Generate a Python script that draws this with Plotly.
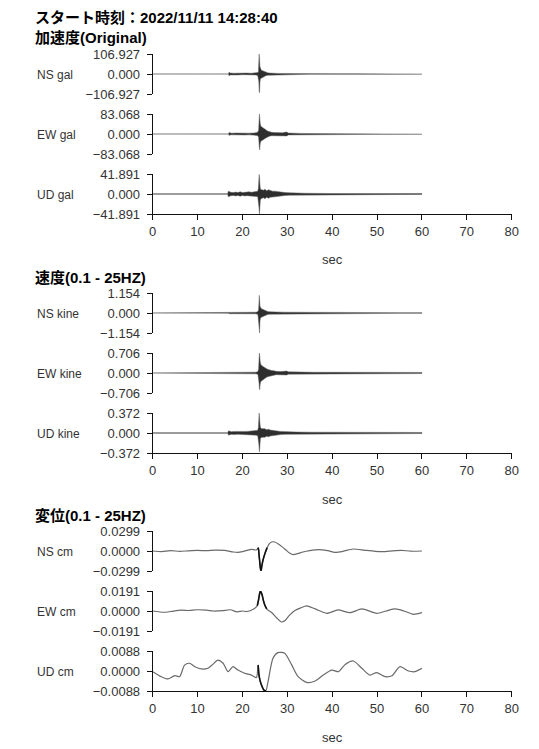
import plotly.graph_objects as go

W, H = 539, 749

# ---------------------------------------------------------------- labels
START_TIME = "2022/11/11 14:28:40"
SECTION_TITLES = ["加速度(Original)", "速度(0.1 - 25HZ)", "変位(0.1 - 25HZ)"]
CHANNELS = ["NS", "EW", "UD"]
UNITS = ["gal", "kine", "cm"]
X_TICKS = [0, 10, 20, 30, 40, 50, 60, 70, 80]
X_TITLE = "sec"

# peak absolute value of each channel (sets the symmetric y range)
ACC_LIMITS = [106.927, 83.068, 41.891]
VEL_LIMITS = [1.154, 0.706, 0.372]
DISP_LIMITS = [0.0299, 0.0191, 0.0088]
LIMIT_DECIMALS = [3, 3, 4]

# ---------------------------------------------------------------- acceleration envelopes (gal)
# t: seconds, up: positive envelope, dn: magnitude of negative envelope
ACC_NS_T = [0, 16.9, 17.0, 17.1, 17.3, 18, 19, 20, 21, 22, 23, 23.4, 23.55, 23.65, 23.72, 23.8, 23.9, 24.0, 24.2,
            24.5, 24.8, 25.2, 25.6, 26.0, 26.5, 27, 28, 29, 30, 31, 32, 33, 35, 40, 45, 50, 55, 60]
ACC_NS_UP = [0.3, 0.5, 10, 8, 5, 4, 5, 3.5, 5, 4, 5, 8, 10, 60, 106.927, 80, 40, 25, 20,
             18, 14, 10, 7, 5, 4, 3.5, 3, 3, 2.5, 3, 2, 2, 1.5, 1.5, 1.5, 1.2, 1.2, 1]
ACC_NS_DN = [0.3, 0.5, 10, 8, 5, 4, 5, 3.5, 5, 4, 5, 8, 10, 40, 95, 100, 45, 25, 22,
             16, 15, 9, 7, 5, 4, 3.5, 3, 3, 2.5, 3, 2, 2, 1.5, 1.5, 1.5, 1.2, 1.2, 1]

ACC_EW_T = [0, 16.9, 17.0, 17.2, 17.6, 18.5, 19.5, 20.5, 21.5, 22.5, 23.3, 23.6, 23.7, 23.78, 23.85, 23.95, 24.1,
            24.4, 24.8, 25.2, 25.6, 26.0, 26.5, 27, 28, 29, 29.7, 29.9, 30.2, 31, 32, 33, 35, 40, 45, 50, 55, 60]
ACC_EW_UP = [0.3, 0.5, 6, 4, 3.5, 4, 3, 4, 3.5, 4, 6, 15, 60, 83.068, 70, 45, 32,
             28, 24, 18, 12, 9, 7, 6, 5, 5, 8, 8, 4, 3, 3, 2.5, 2, 1.5, 1.5, 1.5, 1.2, 1]
ACC_EW_DN = [0.3, 0.5, 6, 4, 3.5, 4, 3, 4, 3.5, 4, 6, 12, 40, 60, 66, 40, 30,
             27, 22, 17, 12, 9, 7, 6, 5, 5, 8, 8, 4, 3, 3, 2.5, 2, 1.5, 1.5, 1.5, 1.2, 1]

ACC_UD_T = [0, 16.7, 16.8, 16.9, 17.1, 17.4, 18, 18.5, 19, 19.5, 20, 20.5, 21, 21.5, 22, 22.5, 23, 23.4, 23.55,
            23.65, 23.72, 23.8, 23.9, 24.0, 24.3, 24.7, 25.0, 25.4, 25.8, 26.2, 26.7, 27.2, 27.8, 28.5, 29.5,
            30.5, 32, 34, 40, 50, 60]
ACC_UD_UP = [0.3, 0.3, 4, 6, 5, 3.5, 3, 4, 3, 4.5, 3, 4, 3.5, 4.5, 3.5, 4.5, 5, 6, 12,
             30, 41, 35, 20, 10, 9, 8, 10, 7, 9, 7, 6, 6, 5, 3.5, 3,
             2.5, 2, 1.5, 1, 1, 0.8]
ACC_UD_DN = [0.3, 0.3, 4, 6, 5, 3.5, 3, 4, 3, 4.5, 3, 4, 3.5, 4.5, 3.5, 4.5, 5, 6, 12,
             25, 35, 41.891, 25, 12, 9, 8, 10, 7, 9, 7, 6, 6, 5, 3.5, 3,
             2.5, 2, 1.5, 1, 1, 0.8]

# ---------------------------------------------------------------- velocity envelopes (kine)
VEL_NS_T = [0, 16.9, 17.0, 17.3, 18, 19, 20, 21, 22, 23, 23.45, 23.6, 23.68, 23.75, 23.82, 23.9, 24.0, 24.2,
            24.5, 24.8, 25.2, 25.6, 26.0, 26.5, 27, 28, 29, 30, 32, 34, 36, 40, 45, 50, 55, 60]
VEL_NS_UP = [0.005, 0.01, 0.04, 0.035, 0.045, 0.04, 0.05, 0.04, 0.05, 0.045, 0.08, 0.2, 0.6, 1.02, 0.8, 0.4,
             0.3, 0.25, 0.22, 0.18, 0.13, 0.09, 0.07, 0.06, 0.055, 0.05, 0.05, 0.045, 0.04, 0.035, 0.03, 0.03,
             0.025, 0.025, 0.02, 0.02]
VEL_NS_DN = [0.005, 0.01, 0.04, 0.035, 0.045, 0.04, 0.05, 0.04, 0.05, 0.045, 0.08, 0.2, 0.5, 0.9, 1.154, 0.5,
             0.3, 0.25, 0.22, 0.18, 0.13, 0.09, 0.07, 0.06, 0.055, 0.05, 0.05, 0.045, 0.04, 0.035, 0.03, 0.03,
             0.025, 0.025, 0.02, 0.02]

VEL_EW_T = [0, 16.9, 17.0, 17.3, 18, 19, 20, 21, 22, 23, 23.45, 23.6, 23.7, 23.78, 23.86, 23.95, 24.1, 24.4,
            24.8, 25.2, 25.6, 26.0, 26.5, 27, 27.5, 28.5, 29.6, 29.9, 30.2, 31, 33, 36, 40, 50, 60]
VEL_EW_UP = [0.004, 0.008, 0.03, 0.025, 0.03, 0.025, 0.03, 0.025, 0.03, 0.03, 0.05, 0.15, 0.5, 0.706, 0.6,
             0.4, 0.3, 0.25, 0.22, 0.17, 0.13, 0.1, 0.09, 0.08, 0.06, 0.05, 0.07, 0.07, 0.04, 0.035, 0.03,
             0.025, 0.025, 0.02, 0.02]
VEL_EW_DN = [0.004, 0.008, 0.03, 0.025, 0.03, 0.025, 0.03, 0.025, 0.03, 0.03, 0.05, 0.12, 0.35, 0.55, 0.59,
             0.4, 0.3, 0.25, 0.22, 0.17, 0.13, 0.1, 0.09, 0.08, 0.06, 0.05, 0.07, 0.07, 0.04, 0.035, 0.03,
             0.025, 0.025, 0.02, 0.02]

VEL_UD_T = [0, 16.7, 16.8, 16.9, 17.1, 17.5, 18, 19, 20, 21, 22, 23, 23.4, 23.55, 23.65, 23.72, 23.8, 23.9,
            24.0, 24.3, 24.7, 25.0, 25.4, 25.8, 26.2, 26.7, 27.2, 27.8, 28.5, 29.5, 30.5, 32, 35, 40, 50, 60]
VEL_UD_UP = [0.004, 0.004, 0.02, 0.04, 0.035, 0.025, 0.03, 0.025, 0.03, 0.03, 0.035, 0.04, 0.05, 0.1, 0.25,
             0.372, 0.3, 0.18, 0.1, 0.08, 0.075, 0.08, 0.06, 0.07, 0.055, 0.045, 0.045, 0.035, 0.03, 0.025,
             0.02, 0.018, 0.015, 0.012, 0.012, 0.01]
VEL_UD_DN = [0.004, 0.004, 0.02, 0.04, 0.035, 0.025, 0.03, 0.025, 0.03, 0.03, 0.035, 0.04, 0.05, 0.1, 0.2,
             0.3, 0.35, 0.2, 0.1, 0.08, 0.075, 0.08, 0.06, 0.07, 0.055, 0.045, 0.045, 0.035, 0.03, 0.025,
             0.02, 0.018, 0.015, 0.012, 0.012, 0.01]

# ---------------------------------------------------------------- displacement traces (cm)
DISP_NS_T = [0, 2, 4, 6, 8, 10, 12, 14, 16, 18, 19, 20, 21, 22, 23, 23.4, 23.55, 23.7, 23.85, 24.0, 24.15,
             24.3, 24.6, 25.0, 25.5, 26.0, 26.5, 27.2, 28.0, 28.8, 29.7, 30.5, 31.3, 32.3, 33.5, 35, 37, 39,
             40.6, 42.4, 44.7, 47.3, 49.6, 51.8, 53.5, 55.5, 57.5, 60]
DISP_NS_V = [0.0, -0.0008, 0.0005, -0.0005, 0.0003, 0.0008, 0.0005, 0.0012, 0.0008, -0.0015, -0.002, -0.0008,
             0.001, 0.0025, 0.0015, 0.003, 0.0045, -0.006, -0.016, -0.026, -0.0299, -0.023, -0.013, -0.004,
             0.005, 0.011, 0.0135, 0.0135, 0.0105, 0.0065, 0.0015, -0.003, -0.0055, -0.004, -0.0015, 0.0005,
             0.002, 0.0005, -0.002, -0.0005, 0.003, 0.001, -0.0005, -0.0008, 0.0003, 0.001, -0.0003, 0.0]

DISP_EW_T = [0, 2.5, 4, 6.3, 8, 9.9, 12, 13.6, 15.5, 17.3, 18.8, 20, 21, 22.5, 23.3, 23.6, 23.8, 24.0, 24.2,
             24.4, 24.7, 25.0, 25.4, 25.8, 26.5, 27.6, 28.7, 29.5, 30.5, 31.7, 33, 34.3, 36.2, 38.8, 41.3, 44,
             46.6, 49.9, 52, 54, 56, 58.1, 60]
DISP_EW_V = [0.0, -0.0012, -0.0005, 0.0008, 0.0005, 0.0012, 0.0008, 0.0, 0.0003, 0.0012, -0.0008, 0.0,
             -0.0005, 0.002, 0.005, 0.011, 0.016, 0.0191, 0.0175, 0.015, 0.0095, 0.0055, 0.002, 0.0005,
             -0.0015, -0.0065, -0.0105, -0.009, -0.004, 0.0005, 0.003, 0.0048, 0.002, -0.0022, 0.001,
             -0.0016, 0.002, -0.0022, 0.0, 0.002, 0.0, -0.0032, -0.0016]

DISP_UD_T = [0, 1.9, 3.4, 4.9, 6, 7.1, 8.2, 9.4, 10.8, 12.3, 13.4, 14.5, 15.7, 16.8, 17.9, 19, 20.5, 22, 23.1,
             23.5, 23.7, 24.1, 24.8, 25.2, 25.7, 26.8, 27.9, 29.4, 31, 32.4, 34.3, 36.2, 38, 39.9, 41.4, 42.9,
             44.7, 46.6, 48.4, 49.9, 51.8, 53.3, 55.1, 57, 58.4, 60]
DISP_UD_V = [-0.0003, -0.0025, -0.0035, -0.002, -0.0025, 0.0026, 0.0034, 0.0019, 0.0009, 0.0012, 0.0029,
             0.0048, 0.0034, -0.0003, 0.0019, 0.0004, -0.001, -0.0018, -0.0029, 0.0026, -0.002, -0.0054,
             -0.0084, -0.0088, -0.0047, 0.0056, 0.0081, 0.0078, 0.0026, -0.0025, -0.005, -0.0044, -0.0018,
             0.0004, -0.0003, 0.0029, 0.0044, 0.0012, -0.0018, -0.0007, -0.0025, -0.0021, 0.0019, 0.0,
             -0.0003, 0.0012]

# ---------------------------------------------------------------- page geometry (pixels)
X_LEFT, X_RIGHT = 152.7, 511.7          # plot area of every time axis
SECTION_TOP = [54, 293, 531]             # top of first channel in each block
PANEL_H, PANEL_PITCH = 40, 60
FONT = "Liberation Sans, Arial, Noto Sans CJK JP, sans-serif"
INK = "#111111"


def fx(px):
    return px / W


def fy(py):
    return 1 - py / H


envelopes = [
    [(ACC_NS_T, ACC_NS_UP, ACC_NS_DN), (ACC_EW_T, ACC_EW_UP, ACC_EW_DN), (ACC_UD_T, ACC_UD_UP, ACC_UD_DN)],
    [(VEL_NS_T, VEL_NS_UP, VEL_NS_DN), (VEL_EW_T, VEL_EW_UP, VEL_EW_DN), (VEL_UD_T, VEL_UD_UP, VEL_UD_DN)],
]
disp_traces = [(DISP_NS_T, DISP_NS_V), (DISP_EW_T, DISP_EW_V), (DISP_UD_T, DISP_UD_V)]
limits = [ACC_LIMITS, VEL_LIMITS, DISP_LIMITS]

fig = go.Figure()
layout = {}
annotations = []


def fmt(v, d):
    s = f"{abs(v):.{d}f}"
    return ("\u2212" + s) if v < 0 else s


for s in range(3):
    xid = "x" if s == 0 else f"x{s + 1}"
    xkey = "xaxis" if s == 0 else f"xaxis{s + 1}"
    ud_k = 3 * s + 3
    bottom_px = SECTION_TOP[s] + 2 * PANEL_PITCH + PANEL_H

    layout[xkey] = dict(
        domain=[fx(X_LEFT), fx(X_RIGHT)], range=[0, 80], anchor=f"y{ud_k}",
        tickmode="array", tickvals=X_TICKS, ticktext=[str(v) for v in X_TICKS],
        ticks="outside", ticklen=5, tickcolor=INK, tickwidth=1,
        showline=True, linecolor=INK, linewidth=1, mirror=False, automargin=False,
        showgrid=False, zeroline=False, fixedrange=True,
        tickfont=dict(family=FONT, size=13, color="#333"),
    )
    annotations.append(dict(
        text=X_TITLE, x=fx((X_LEFT + X_RIGHT) / 2), y=fy(bottom_px + 46), xref="paper", yref="paper",
        showarrow=False, xanchor="center", yanchor="middle", font=dict(family=FONT, size=13, color="#333"),
    ))
    annotations.append(dict(
        text=f"<b>{SECTION_TITLES[s]}</b>", x=fx(33), y=fy(SECTION_TOP[s] - 16), xref="paper", yref="paper",
        showarrow=False, xanchor="left", yanchor="middle", font=dict(family=FONT, size=15, color="#000"),
    ))

    for c in range(3):
        k = 3 * s + c + 1
        ykey = "yaxis" if k == 1 else f"yaxis{k}"
        yid = "y" if k == 1 else f"y{k}"
        top_px = SECTION_TOP[s] + c * PANEL_PITCH
        lim = limits[s][c]
        d = LIMIT_DECIMALS[s]
        layout[ykey] = dict(
            domain=[fy(top_px + PANEL_H), fy(top_px)], range=[-lim, lim], anchor=xid,
            tickmode="array", tickvals=[lim, 0, -lim], ticktext=[fmt(lim, d), fmt(0, d), fmt(-lim, d)],
            ticks="outside", ticklen=5, tickcolor=INK, tickwidth=1, ticklabelstandoff=4,
            showline=True, linecolor=INK, linewidth=1, mirror=False, automargin=False,
            showgrid=False, zeroline=False, fixedrange=True,
            tickfont=dict(family=FONT, size=13, color="#333"),
        )
        annotations.append(dict(
            text=f"{CHANNELS[c]} {UNITS[s]}", x=fx(35), y=fy(top_px + PANEL_H / 2 + 1), xref="paper",
            yref="paper", showarrow=False, xanchor="left", yanchor="middle",
            font=dict(family=FONT, size=12, color="#333"),
        ))

        if s < 2:
            t, up, dn = envelopes[s][c]
            xs = list(t) + list(t[::-1])
            ys = list(up) + [-v for v in dn[::-1]]
            fig.add_trace(go.Scatter(
                x=xs, y=ys, xaxis=xid, yaxis=yid, mode="lines", fill="toself",
                fillcolor="rgba(0,0,0,0.82)", line=dict(color="rgba(100,100,100,0.7)", width=0.7),
                hoverinfo="skip", showlegend=False,
            ))
        else:
            t, v = disp_traces[c]
            fig.add_trace(go.Scatter(
                x=t, y=v, xaxis=xid, yaxis=yid, mode="lines",
                line=dict(color="#6a6a6a", width=1.2, shape="spline", smoothing=0.7),
                hoverinfo="skip", showlegend=False,
            ))
            # the strong-motion part is drawn darker
            sel = [i for i, tt in enumerate(t) if 23.2 <= tt <= 25.6]
            fig.add_trace(go.Scatter(
                x=[t[i] for i in sel], y=[v[i] for i in sel], xaxis=xid, yaxis=yid, mode="lines",
                line=dict(color="#111", width=1.6, shape="spline", smoothing=0.7),
                hoverinfo="skip", showlegend=False,
            ))

annotations.append(dict(
    text=f"<b>スタート時刻：{START_TIME}</b>", x=fx(33), y=fy(18), xref="paper", yref="paper",
    showarrow=False, xanchor="left", yanchor="middle", font=dict(family=FONT, size=15, color="#000"),
))

fig.update_layout(
    template="none",
    width=W, height=H, margin=dict(l=0, r=0, t=0, b=0, pad=0), autosize=False,
    paper_bgcolor="white", plot_bgcolor="white", showlegend=False,
    annotations=annotations, **layout,
)

fig.write_html("out.html", config={"displayModeBar": False, "responsive": False})
